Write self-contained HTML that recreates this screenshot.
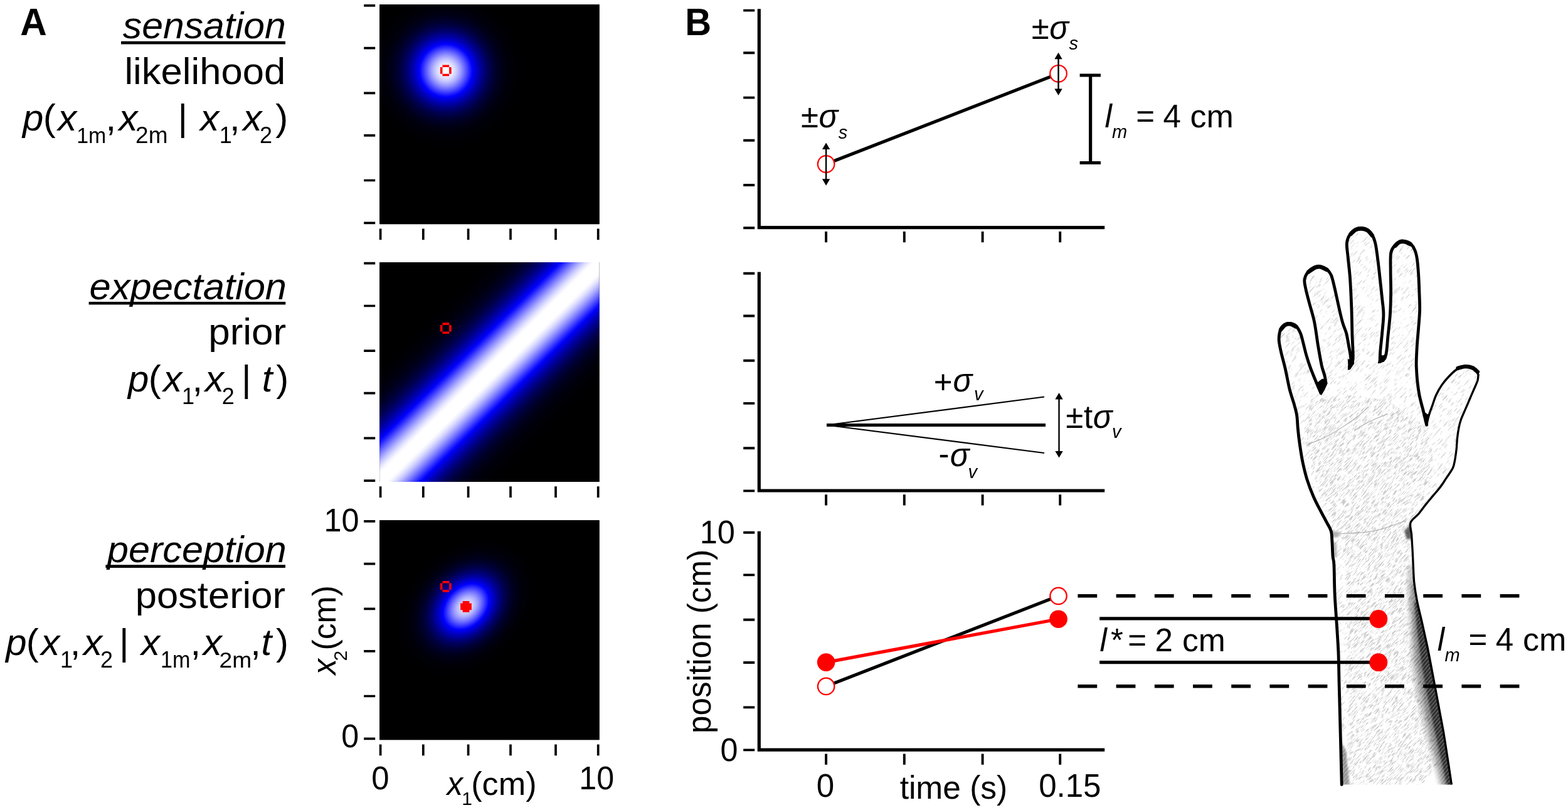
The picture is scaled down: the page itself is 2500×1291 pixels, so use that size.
<!DOCTYPE html>
<html><head><meta charset="utf-8"><title>Figure</title>
<style>html,body{margin:0;padding:0;background:#fff;}body{width:2500px;height:1291px;overflow:hidden;}svg{display:block;}</style>
</head><body>
<svg width="2500" height="1291" viewBox="0 0 2500 1291" font-family="'Liberation Sans', sans-serif" fill="#000">
<defs><radialGradient id="gL" gradientUnits="userSpaceOnUse" cx="711.0" cy="112.4" r="128.88"><stop offset="0.0000" stop-color="rgb(255,255,255)"/><stop offset="0.0139" stop-color="rgb(254,254,255)"/><stop offset="0.0278" stop-color="rgb(252,252,255)"/><stop offset="0.0417" stop-color="rgb(249,249,255)"/><stop offset="0.0556" stop-color="rgb(245,245,255)"/><stop offset="0.0694" stop-color="rgb(239,239,255)"/><stop offset="0.0833" stop-color="rgb(233,233,255)"/><stop offset="0.0972" stop-color="rgb(225,225,255)"/><stop offset="0.1111" stop-color="rgb(216,216,255)"/><stop offset="0.1250" stop-color="rgb(206,206,255)"/><stop offset="0.1389" stop-color="rgb(195,195,255)"/><stop offset="0.1528" stop-color="rgb(183,183,255)"/><stop offset="0.1667" stop-color="rgb(171,171,255)"/><stop offset="0.1806" stop-color="rgb(158,158,255)"/><stop offset="0.1944" stop-color="rgb(144,144,255)"/><stop offset="0.2083" stop-color="rgb(130,130,255)"/><stop offset="0.2222" stop-color="rgb(115,115,255)"/><stop offset="0.2361" stop-color="rgb(100,100,255)"/><stop offset="0.2500" stop-color="rgb(85,85,255)"/><stop offset="0.2639" stop-color="rgb(70,70,255)"/><stop offset="0.2778" stop-color="rgb(54,54,255)"/><stop offset="0.2917" stop-color="rgb(39,39,255)"/><stop offset="0.3056" stop-color="rgb(23,23,255)"/><stop offset="0.3194" stop-color="rgb(8,8,255)"/><stop offset="0.3333" stop-color="rgb(0,0,248)"/><stop offset="0.3472" stop-color="rgb(0,0,233)"/><stop offset="0.3611" stop-color="rgb(0,0,219)"/><stop offset="0.3750" stop-color="rgb(0,0,205)"/><stop offset="0.3889" stop-color="rgb(0,0,191)"/><stop offset="0.4028" stop-color="rgb(0,0,178)"/><stop offset="0.4167" stop-color="rgb(0,0,166)"/><stop offset="0.4306" stop-color="rgb(0,0,153)"/><stop offset="0.4444" stop-color="rgb(0,0,142)"/><stop offset="0.4583" stop-color="rgb(0,0,131)"/><stop offset="0.4722" stop-color="rgb(0,0,120)"/><stop offset="0.4861" stop-color="rgb(0,0,110)"/><stop offset="0.5000" stop-color="rgb(0,0,101)"/><stop offset="0.5139" stop-color="rgb(0,0,92)"/><stop offset="0.5278" stop-color="rgb(0,0,84)"/><stop offset="0.5417" stop-color="rgb(0,0,76)"/><stop offset="0.5556" stop-color="rgb(0,0,69)"/><stop offset="0.5694" stop-color="rgb(0,0,62)"/><stop offset="0.5833" stop-color="rgb(0,0,56)"/><stop offset="0.5972" stop-color="rgb(0,0,51)"/><stop offset="0.6111" stop-color="rgb(0,0,45)"/><stop offset="0.6250" stop-color="rgb(0,0,41)"/><stop offset="0.6389" stop-color="rgb(0,0,36)"/><stop offset="0.6528" stop-color="rgb(0,0,32)"/><stop offset="0.6667" stop-color="rgb(0,0,29)"/><stop offset="0.6806" stop-color="rgb(0,0,25)"/><stop offset="0.6944" stop-color="rgb(0,0,22)"/><stop offset="0.7083" stop-color="rgb(0,0,20)"/><stop offset="0.7222" stop-color="rgb(0,0,17)"/><stop offset="0.7361" stop-color="rgb(0,0,15)"/><stop offset="0.7500" stop-color="rgb(0,0,13)"/><stop offset="0.7639" stop-color="rgb(0,0,12)"/><stop offset="0.7778" stop-color="rgb(0,0,10)"/><stop offset="0.7917" stop-color="rgb(0,0,9)"/><stop offset="0.8056" stop-color="rgb(0,0,8)"/><stop offset="0.8194" stop-color="rgb(0,0,7)"/><stop offset="0.8333" stop-color="rgb(0,0,6)"/><stop offset="0.8472" stop-color="rgb(0,0,5)"/><stop offset="0.8611" stop-color="rgb(0,0,4)"/><stop offset="0.8750" stop-color="rgb(0,0,4)"/><stop offset="0.8889" stop-color="rgb(0,0,3)"/><stop offset="0.9028" stop-color="rgb(0,0,3)"/><stop offset="0.9167" stop-color="rgb(0,0,2)"/><stop offset="0.9306" stop-color="rgb(0,0,2)"/><stop offset="0.9444" stop-color="rgb(0,0,2)"/><stop offset="0.9583" stop-color="rgb(0,0,1)"/><stop offset="0.9722" stop-color="rgb(0,0,1)"/><stop offset="0.9861" stop-color="rgb(0,0,1)"/><stop offset="1.0000" stop-color="rgb(0,0,1)"/></radialGradient><linearGradient id="gP" gradientUnits="userSpaceOnUse" x1="683.16" y1="495.74" x2="877.64" y2="693.26"><stop offset="0.0000" stop-color="rgb(0,0,1)"/><stop offset="0.0100" stop-color="rgb(0,0,1)"/><stop offset="0.0200" stop-color="rgb(0,0,1)"/><stop offset="0.0300" stop-color="rgb(0,0,2)"/><stop offset="0.0400" stop-color="rgb(0,0,2)"/><stop offset="0.0500" stop-color="rgb(0,0,3)"/><stop offset="0.0600" stop-color="rgb(0,0,3)"/><stop offset="0.0700" stop-color="rgb(0,0,4)"/><stop offset="0.0800" stop-color="rgb(0,0,5)"/><stop offset="0.0900" stop-color="rgb(0,0,7)"/><stop offset="0.1000" stop-color="rgb(0,0,8)"/><stop offset="0.1100" stop-color="rgb(0,0,10)"/><stop offset="0.1200" stop-color="rgb(0,0,12)"/><stop offset="0.1300" stop-color="rgb(0,0,15)"/><stop offset="0.1400" stop-color="rgb(0,0,18)"/><stop offset="0.1500" stop-color="rgb(0,0,22)"/><stop offset="0.1600" stop-color="rgb(0,0,26)"/><stop offset="0.1700" stop-color="rgb(0,0,31)"/><stop offset="0.1800" stop-color="rgb(0,0,37)"/><stop offset="0.1900" stop-color="rgb(0,0,44)"/><stop offset="0.2000" stop-color="rgb(0,0,51)"/><stop offset="0.2100" stop-color="rgb(0,0,59)"/><stop offset="0.2200" stop-color="rgb(0,0,69)"/><stop offset="0.2300" stop-color="rgb(0,0,79)"/><stop offset="0.2400" stop-color="rgb(0,0,91)"/><stop offset="0.2500" stop-color="rgb(0,0,104)"/><stop offset="0.2600" stop-color="rgb(0,0,118)"/><stop offset="0.2700" stop-color="rgb(0,0,133)"/><stop offset="0.2800" stop-color="rgb(0,0,150)"/><stop offset="0.2900" stop-color="rgb(0,0,167)"/><stop offset="0.3000" stop-color="rgb(0,0,186)"/><stop offset="0.3100" stop-color="rgb(0,0,206)"/><stop offset="0.3200" stop-color="rgb(0,0,227)"/><stop offset="0.3300" stop-color="rgb(0,0,248)"/><stop offset="0.3400" stop-color="rgb(16,16,255)"/><stop offset="0.3500" stop-color="rgb(38,38,255)"/><stop offset="0.3600" stop-color="rgb(61,61,255)"/><stop offset="0.3700" stop-color="rgb(84,84,255)"/><stop offset="0.3800" stop-color="rgb(107,107,255)"/><stop offset="0.3900" stop-color="rgb(129,129,255)"/><stop offset="0.4000" stop-color="rgb(150,150,255)"/><stop offset="0.4100" stop-color="rgb(171,171,255)"/><stop offset="0.4200" stop-color="rgb(190,190,255)"/><stop offset="0.4300" stop-color="rgb(208,208,255)"/><stop offset="0.4400" stop-color="rgb(224,224,255)"/><stop offset="0.4500" stop-color="rgb(237,237,255)"/><stop offset="0.4600" stop-color="rgb(249,249,255)"/><stop offset="0.4700" stop-color="rgb(255,255,255)"/><stop offset="0.4800" stop-color="rgb(255,255,255)"/><stop offset="0.4900" stop-color="rgb(255,255,255)"/><stop offset="0.5000" stop-color="rgb(255,255,255)"/><stop offset="0.5100" stop-color="rgb(255,255,255)"/><stop offset="0.5200" stop-color="rgb(255,255,255)"/><stop offset="0.5300" stop-color="rgb(255,255,255)"/><stop offset="0.5400" stop-color="rgb(249,249,255)"/><stop offset="0.5500" stop-color="rgb(237,237,255)"/><stop offset="0.5600" stop-color="rgb(224,224,255)"/><stop offset="0.5700" stop-color="rgb(208,208,255)"/><stop offset="0.5800" stop-color="rgb(190,190,255)"/><stop offset="0.5900" stop-color="rgb(171,171,255)"/><stop offset="0.6000" stop-color="rgb(150,150,255)"/><stop offset="0.6100" stop-color="rgb(129,129,255)"/><stop offset="0.6200" stop-color="rgb(107,107,255)"/><stop offset="0.6300" stop-color="rgb(84,84,255)"/><stop offset="0.6400" stop-color="rgb(61,61,255)"/><stop offset="0.6500" stop-color="rgb(38,38,255)"/><stop offset="0.6600" stop-color="rgb(16,16,255)"/><stop offset="0.6700" stop-color="rgb(0,0,248)"/><stop offset="0.6800" stop-color="rgb(0,0,227)"/><stop offset="0.6900" stop-color="rgb(0,0,206)"/><stop offset="0.7000" stop-color="rgb(0,0,186)"/><stop offset="0.7100" stop-color="rgb(0,0,167)"/><stop offset="0.7200" stop-color="rgb(0,0,150)"/><stop offset="0.7300" stop-color="rgb(0,0,133)"/><stop offset="0.7400" stop-color="rgb(0,0,118)"/><stop offset="0.7500" stop-color="rgb(0,0,104)"/><stop offset="0.7600" stop-color="rgb(0,0,91)"/><stop offset="0.7700" stop-color="rgb(0,0,79)"/><stop offset="0.7800" stop-color="rgb(0,0,69)"/><stop offset="0.7900" stop-color="rgb(0,0,59)"/><stop offset="0.8000" stop-color="rgb(0,0,51)"/><stop offset="0.8100" stop-color="rgb(0,0,44)"/><stop offset="0.8200" stop-color="rgb(0,0,37)"/><stop offset="0.8300" stop-color="rgb(0,0,31)"/><stop offset="0.8400" stop-color="rgb(0,0,26)"/><stop offset="0.8500" stop-color="rgb(0,0,22)"/><stop offset="0.8600" stop-color="rgb(0,0,18)"/><stop offset="0.8700" stop-color="rgb(0,0,15)"/><stop offset="0.8800" stop-color="rgb(0,0,12)"/><stop offset="0.8900" stop-color="rgb(0,0,10)"/><stop offset="0.9000" stop-color="rgb(0,0,8)"/><stop offset="0.9100" stop-color="rgb(0,0,7)"/><stop offset="0.9200" stop-color="rgb(0,0,5)"/><stop offset="0.9300" stop-color="rgb(0,0,4)"/><stop offset="0.9400" stop-color="rgb(0,0,3)"/><stop offset="0.9500" stop-color="rgb(0,0,3)"/><stop offset="0.9600" stop-color="rgb(0,0,2)"/><stop offset="0.9700" stop-color="rgb(0,0,2)"/><stop offset="0.9800" stop-color="rgb(0,0,1)"/><stop offset="0.9900" stop-color="rgb(0,0,1)"/><stop offset="1.0000" stop-color="rgb(0,0,1)"/></linearGradient><radialGradient id="gQ" gradientUnits="userSpaceOnUse" cx="0" cy="0" r="3.6" gradientTransform="translate(743.0 966.9) rotate(-45) scale(36.5 27.5)"><stop offset="0.0000" stop-color="rgb(229,229,255)"/><stop offset="0.0139" stop-color="rgb(229,229,255)"/><stop offset="0.0278" stop-color="rgb(227,227,255)"/><stop offset="0.0417" stop-color="rgb(224,224,255)"/><stop offset="0.0556" stop-color="rgb(220,220,255)"/><stop offset="0.0694" stop-color="rgb(215,215,255)"/><stop offset="0.0833" stop-color="rgb(208,208,255)"/><stop offset="0.0972" stop-color="rgb(201,201,255)"/><stop offset="0.1111" stop-color="rgb(192,192,255)"/><stop offset="0.1250" stop-color="rgb(183,183,255)"/><stop offset="0.1389" stop-color="rgb(173,173,255)"/><stop offset="0.1528" stop-color="rgb(161,161,255)"/><stop offset="0.1667" stop-color="rgb(150,150,255)"/><stop offset="0.1806" stop-color="rgb(137,137,255)"/><stop offset="0.1944" stop-color="rgb(124,124,255)"/><stop offset="0.2083" stop-color="rgb(111,111,255)"/><stop offset="0.2222" stop-color="rgb(97,97,255)"/><stop offset="0.2361" stop-color="rgb(83,83,255)"/><stop offset="0.2500" stop-color="rgb(68,68,255)"/><stop offset="0.2639" stop-color="rgb(54,54,255)"/><stop offset="0.2778" stop-color="rgb(39,39,255)"/><stop offset="0.2917" stop-color="rgb(24,24,255)"/><stop offset="0.3056" stop-color="rgb(10,10,255)"/><stop offset="0.3194" stop-color="rgb(0,0,250)"/><stop offset="0.3333" stop-color="rgb(0,0,236)"/><stop offset="0.3472" stop-color="rgb(0,0,222)"/><stop offset="0.3611" stop-color="rgb(0,0,208)"/><stop offset="0.3750" stop-color="rgb(0,0,195)"/><stop offset="0.3889" stop-color="rgb(0,0,182)"/><stop offset="0.4028" stop-color="rgb(0,0,169)"/><stop offset="0.4167" stop-color="rgb(0,0,157)"/><stop offset="0.4306" stop-color="rgb(0,0,146)"/><stop offset="0.4444" stop-color="rgb(0,0,135)"/><stop offset="0.4583" stop-color="rgb(0,0,124)"/><stop offset="0.4722" stop-color="rgb(0,0,114)"/><stop offset="0.4861" stop-color="rgb(0,0,105)"/><stop offset="0.5000" stop-color="rgb(0,0,96)"/><stop offset="0.5139" stop-color="rgb(0,0,88)"/><stop offset="0.5278" stop-color="rgb(0,0,80)"/><stop offset="0.5417" stop-color="rgb(0,0,72)"/><stop offset="0.5556" stop-color="rgb(0,0,66)"/><stop offset="0.5694" stop-color="rgb(0,0,59)"/><stop offset="0.5833" stop-color="rgb(0,0,53)"/><stop offset="0.5972" stop-color="rgb(0,0,48)"/><stop offset="0.6111" stop-color="rgb(0,0,43)"/><stop offset="0.6250" stop-color="rgb(0,0,39)"/><stop offset="0.6389" stop-color="rgb(0,0,34)"/><stop offset="0.6528" stop-color="rgb(0,0,31)"/><stop offset="0.6667" stop-color="rgb(0,0,27)"/><stop offset="0.6806" stop-color="rgb(0,0,24)"/><stop offset="0.6944" stop-color="rgb(0,0,21)"/><stop offset="0.7083" stop-color="rgb(0,0,19)"/><stop offset="0.7222" stop-color="rgb(0,0,16)"/><stop offset="0.7361" stop-color="rgb(0,0,14)"/><stop offset="0.7500" stop-color="rgb(0,0,13)"/><stop offset="0.7639" stop-color="rgb(0,0,11)"/><stop offset="0.7778" stop-color="rgb(0,0,10)"/><stop offset="0.7917" stop-color="rgb(0,0,8)"/><stop offset="0.8056" stop-color="rgb(0,0,7)"/><stop offset="0.8194" stop-color="rgb(0,0,6)"/><stop offset="0.8333" stop-color="rgb(0,0,5)"/><stop offset="0.8472" stop-color="rgb(0,0,5)"/><stop offset="0.8611" stop-color="rgb(0,0,4)"/><stop offset="0.8750" stop-color="rgb(0,0,3)"/><stop offset="0.8889" stop-color="rgb(0,0,3)"/><stop offset="0.9028" stop-color="rgb(0,0,2)"/><stop offset="0.9167" stop-color="rgb(0,0,2)"/><stop offset="0.9306" stop-color="rgb(0,0,2)"/><stop offset="0.9444" stop-color="rgb(0,0,1)"/><stop offset="0.9583" stop-color="rgb(0,0,1)"/><stop offset="0.9722" stop-color="rgb(0,0,1)"/><stop offset="0.9861" stop-color="rgb(0,0,1)"/><stop offset="1.0000" stop-color="rgb(0,0,1)"/></radialGradient><filter id="tex" x="0" y="0" width="100%" height="100%" filterUnits="objectBoundingBox" color-interpolation-filters="sRGB">
<feTurbulence type="fractalNoise" baseFrequency="0.07 0.9" numOctaves="2" seed="7" result="n"/>
<feColorMatrix in="n" type="matrix" values="0 0 0 0 0.8  0 0 0 0 0.8  0 0 0 0 0.8  9 0 0 0 -5.45" result="h"/>
<feComposite in="h" in2="SourceGraphic" operator="over"/>
</filter>
<filter id="tex2" x="0" y="0" width="100%" height="100%" filterUnits="objectBoundingBox" color-interpolation-filters="sRGB">
<feTurbulence type="fractalNoise" baseFrequency="0.09 0.8" numOctaves="2" seed="23" result="n"/>
<feColorMatrix in="n" type="matrix" values="0 0 0 0 0.8  0 0 0 0 0.8  0 0 0 0 0.8  0 8 0 0 -4.3" result="h"/>
</filter><clipPath id="palm"><path transform="rotate(48 2200 800)" d="M2090 640C2140 620 2250 630 2275 690C2300 740 2270 800 2245 860C2250 1000 2280 1150 2300 1260H2150C2150 1100 2150 950 2140 860C2100 800 2070 700 2090 640Z"/></clipPath><pattern id="hatch" width="4.5" height="4.5" patternUnits="userSpaceOnUse" patternTransform="rotate(-50)"><rect width="4.5" height="1.3" fill="#fff" fill-opacity="0.32"/></pattern><filter id="blur" x="-20%" y="-5%" width="140%" height="110%"><feGaussianBlur stdDeviation="3.2"/></filter><filter id="blur2" x="-20%" y="-5%" width="140%" height="110%"><feGaussianBlur stdDeviation="1.8"/></filter></defs>
<rect x="605.2" y="7.2" width="350.4" height="350.0" fill="#000"/>
<rect x="605.2" y="7.2" width="350.4" height="350.0" fill="url(#gL)"/>
<rect x="605.2" y="418.0" width="350.4" height="350.0" fill="#000"/>
<rect x="605.2" y="418.0" width="350.4" height="350.0" fill="url(#gP)"/>
<rect x="605.2" y="829.2" width="350.4" height="350.0" fill="#000"/>
<rect x="605.2" y="829.2" width="350.4" height="350.0" fill="url(#gQ)"/>
<path d="M705.47 103.53L716.12 103.53L716.12 107.08L719.67 107.08L719.67 117.73L716.12 117.73L716.12 121.28L705.47 121.28L705.47 117.73L701.92 117.73L701.92 107.08L705.47 107.08ZM705.47 107.08L705.47 117.73L716.12 117.73L716.12 107.08Z" fill="#f00" fill-rule="evenodd"/>
<path d="M705.47 514.33L716.12 514.33L716.12 517.88L719.67 517.88L719.67 528.53L716.12 528.53L716.12 532.08L705.47 532.08L705.47 528.53L701.92 528.53L701.92 517.88L705.47 517.88ZM705.47 517.88L705.47 528.53L716.12 528.53L716.12 517.88Z" fill="#f00" fill-rule="evenodd"/>
<path d="M705.47 925.92L716.12 925.92L716.12 929.47L719.67 929.47L719.67 940.12L716.12 940.12L716.12 943.67L705.47 943.67L705.47 940.12L701.92 940.12L701.92 929.47L705.47 929.47ZM705.47 929.47L705.47 940.12L716.12 940.12L716.12 929.47Z" fill="#f00" fill-rule="evenodd"/>
<path d="M737.67 958.02L748.33 958.02L748.33 961.57L751.88 961.57L751.88 972.23L748.33 972.23L748.33 975.77L737.67 975.77L737.67 972.23L734.12 972.23L734.12 961.57L737.67 961.57Z" fill="#f00"/>
<path d="M580.2 8.8H598.2 M580.2 76.7H598.2 M580.2 148.3H598.2 M580.2 215.8H598.2 M580.2 287.5H598.2 M580.2 355.3H598.2 M606.6 364.4V382.2 M674.8 364.4V382.2 M746.6 364.4V382.2 M814.0 364.4V382.2 M886.0 364.4V382.2 M953.7 364.4V382.2 M580.2 419.6H598.2 M580.2 487.5H598.2 M580.2 559.1H598.2 M580.2 626.6H598.2 M580.2 698.3H598.2 M580.2 766.1H598.2 M606.6 775.2V793.0 M674.8 775.2V793.0 M746.6 775.2V793.0 M814.0 775.2V793.0 M886.0 775.2V793.0 M953.7 775.2V793.0 M580.2 830.8H598.2 M580.2 898.7H598.2 M580.2 970.3H598.2 M580.2 1037.8H598.2 M580.2 1109.5H598.2 M580.2 1177.3H598.2 M606.6 1186.4V1204.2 M674.8 1186.4V1204.2 M746.6 1186.4V1204.2 M814.0 1186.4V1204.2 M886.0 1186.4V1204.2 M953.7 1186.4V1204.2" stroke="#000" stroke-width="3.7" fill="none"/>
<path d="M1210.3 14.2V362.7H1761.2" stroke="#000" stroke-width="5.2" fill="none" stroke-linejoin="miter"/>
<path d="M1185.2 16.6H1203.2 M1185.2 84.3H1203.2 M1185.2 155.6H1203.2 M1185.2 223.7H1203.2 M1185.2 295.0H1203.2 M1185.2 363.2H1203.2 M1317.1 369.0V386.3 M1441.8 369.0V386.3 M1566.6 369.0V386.3 M1690.2 369.0V386.3" stroke="#000" stroke-width="3.9" fill="none"/>
<path d="M1210.3 433.4V782.0H1761.2" stroke="#000" stroke-width="5.2" fill="none" stroke-linejoin="miter"/>
<path d="M1185.2 435.8H1203.2 M1185.2 503.5H1203.2 M1185.2 574.8H1203.2 M1185.2 642.9H1203.2 M1185.2 714.2H1203.2 M1185.2 782.4H1203.2 M1317.1 788.3V805.6 M1441.8 788.3V805.6 M1566.6 788.3V805.6 M1690.2 788.3V805.6" stroke="#000" stroke-width="3.9" fill="none"/>
<path d="M1210.3 846.8V1195.2H1761.2" stroke="#000" stroke-width="5.2" fill="none" stroke-linejoin="miter"/>
<path d="M1185.2 848.7H1203.2 M1185.2 916.4H1203.2 M1185.2 987.8H1203.2 M1185.2 1056.0H1203.2 M1185.2 1127.4H1203.2 M1185.2 1195.4H1203.2 M1317.1 1201.5V1218.8 M1441.8 1201.5V1218.8 M1566.6 1201.5V1218.8 M1690.2 1201.5V1218.8" stroke="#000" stroke-width="3.9" fill="none"/>
<line x1="1317.1" y1="261.5" x2="1687.5" y2="117.3" stroke="#000" stroke-width="5.2"/>
<circle cx="1317.1" cy="261.5" r="13.3" fill="#fff" stroke="#f00" stroke-width="2.2"/>
<circle cx="1687.5" cy="117.3" r="13.3" fill="#fff" stroke="#f00" stroke-width="2.2"/>
<path d="M1317.1 237.1V286.3" stroke="#000" stroke-width="2.4" fill="none"/><path d="M1317.1 227.6L1310.8999999999999 238.1H1323.3Z M1317.1 295.8L1310.8999999999999 285.3H1323.3Z" fill="#000"/>
<path d="M1687.5 93.2V142.5" stroke="#000" stroke-width="2.4" fill="none"/><path d="M1687.5 83.7L1681.3 94.2H1693.7Z M1687.5 152.0L1681.3 141.5H1693.7Z" fill="#000"/>
<path d="M1721.6 120H1754.9M1738.6 120V259.5M1721.6 259.5H1754.9" stroke="#000" stroke-width="5.2" fill="none"/>
<path d="M1318 677.5H1667" stroke="#000" stroke-width="5.2" fill="none"/>
<path d="M1318 677.5L1665 632.5M1318 677.5L1665 722" stroke="#000" stroke-width="2.2" fill="none"/>
<path d="M1688.5 635.5V720.0" stroke="#000" stroke-width="2.4" fill="none"/><path d="M1688.5 626.0L1682.3 636.5H1694.7Z M1688.5 729.5L1682.3 719.0H1694.7Z" fill="#000"/>
<line x1="1317.1" y1="1093.9" x2="1687.5" y2="949.9" stroke="#000" stroke-width="5.2"/>
<line x1="1317.1" y1="1055.6" x2="1687.5" y2="986.7" stroke="#f00" stroke-width="5.2"/>
<circle cx="1317.1" cy="1093.9" r="13.2" fill="#fff" stroke="#f00" stroke-width="2.3"/>
<circle cx="1687.5" cy="949.9" r="13.2" fill="#fff" stroke="#f00" stroke-width="2.3"/>
<circle cx="1317.1" cy="1055.6" r="14.3" fill="#f00"/>
<circle cx="1687.5" cy="986.7" r="14.3" fill="#f00"/>
<clipPath id="hc"><path d="M2139.2 1250.5C2138.9 1238.6 2137.9 1198.6 2137.4 1178.9C2136.9 1159.2 2136.6 1147.9 2136.2 1132.4C2135.8 1116.9 2135.4 1101.4 2135.0 1085.9C2134.7 1070.4 2134.5 1054.9 2133.9 1039.5C2133.2 1024.0 2132.1 1008.5 2131.1 993.0C2130.1 977.5 2128.8 962.0 2128.1 946.5C2127.4 931.0 2127.4 909.9 2126.9 900.0C2126.4 890.1 2125.6 893.3 2125.1 887.3C2124.5 881.3 2124.4 870.8 2123.9 864.0C2123.4 857.3 2123.7 851.8 2122.3 846.6C2120.8 841.4 2118.0 837.9 2115.3 832.7C2112.6 827.4 2109.5 822.0 2106.0 815.2C2102.5 808.5 2098.1 800.5 2094.4 792.0C2090.7 783.5 2086.8 773.4 2083.9 764.1C2081.0 754.8 2078.9 745.5 2076.9 736.2C2075.0 726.9 2073.6 717.2 2072.3 708.3C2071.0 699.4 2070.0 690.5 2069.3 682.8C2068.5 675.0 2068.7 668.4 2067.6 661.8C2066.6 655.3 2064.9 650.2 2063.0 643.2C2061.1 636.3 2058.3 629.4 2056.0 620.0C2053.7 610.6 2051.4 597.2 2049.1 587.1C2046.7 576.9 2043.7 566.9 2042.1 559.2C2040.4 551.4 2039.1 546.4 2039.1 540.6C2039.1 534.8 2040.4 528.3 2042.1 524.3C2043.7 520.4 2046.5 518.3 2049.1 516.9C2051.6 515.4 2054.3 515.0 2057.2 515.5C2060.1 515.9 2063.8 517.0 2066.5 519.7C2069.2 522.3 2071.5 526.6 2073.5 531.3C2075.4 535.9 2076.6 541.7 2078.1 547.6C2079.7 553.4 2080.8 559.6 2082.8 566.1C2084.7 572.7 2087.0 579.7 2089.7 587.1C2092.4 594.4 2096.3 603.7 2099.0 610.3C2101.7 616.9 2104.8 623.9 2106.0 626.6L2106.0 626.6C2107.2 623.1 2112.8 613.0 2113.0 605.7C2113.2 598.3 2109.1 591.7 2107.2 582.4C2105.2 573.1 2103.3 561.5 2101.3 549.9C2099.4 538.3 2097.9 523.9 2095.5 512.7C2093.2 501.5 2089.7 491.4 2087.4 482.5C2085.1 473.6 2082.8 465.4 2081.6 459.2C2080.4 453.0 2079.2 449.7 2080.0 445.3C2080.7 440.8 2083.5 435.8 2086.2 432.5C2089.0 429.2 2093.6 426.9 2096.7 425.5C2099.8 424.2 2101.7 423.8 2104.8 424.4C2107.9 425.0 2112.4 426.7 2115.3 429.0C2118.2 431.3 2120.3 434.1 2122.3 438.3C2124.2 442.6 2125.4 448.4 2126.9 454.6C2128.5 460.8 2130.0 468.5 2131.6 475.5C2133.1 482.5 2134.7 489.8 2136.2 496.4C2137.8 503.0 2139.1 509.2 2140.9 515.0C2142.6 520.8 2145.1 525.5 2146.7 531.3C2148.2 537.1 2149.0 543.3 2150.2 549.9C2151.3 556.5 2153.4 564.6 2153.6 570.8C2153.8 577.0 2151.7 584.4 2151.3 587.1L2151.3 587.1C2152.3 584.7 2156.4 581.6 2157.1 573.1C2157.9 564.6 2156.4 549.9 2156.0 535.9C2155.6 522.0 2155.4 504.9 2154.8 489.5C2154.2 474.0 2153.4 456.5 2152.5 443.0C2151.5 429.4 2149.8 417.4 2149.0 408.1C2148.1 398.8 2146.8 393.0 2147.4 387.2C2147.9 381.4 2150.1 376.9 2152.5 373.2C2154.9 369.6 2158.7 366.7 2161.8 365.1C2164.9 363.5 2168.0 363.3 2171.1 363.5C2174.2 363.7 2177.5 364.3 2180.4 366.3C2183.3 368.3 2186.4 371.7 2188.5 375.6C2190.6 379.4 2191.8 383.3 2193.2 389.5C2194.5 395.7 2195.5 403.8 2196.6 412.8C2197.8 421.7 2199.0 432.5 2200.1 443.0C2201.3 453.4 2202.6 465.8 2203.6 475.5C2204.6 485.2 2205.9 491.8 2205.9 501.1C2205.9 510.4 2204.5 521.6 2203.6 531.3C2202.8 541.0 2201.4 551.6 2200.8 559.2C2200.2 566.7 2200.2 573.7 2200.1 576.6L2200.1 576.6C2201.7 574.9 2207.3 572.9 2209.4 566.1C2211.6 559.4 2211.7 546.8 2212.9 535.9C2214.1 525.1 2215.6 512.7 2216.4 501.1C2217.2 489.5 2217.4 477.8 2217.6 466.2C2217.7 454.6 2217.1 441.8 2217.1 431.3C2217.1 420.9 2216.5 410.0 2217.6 403.5C2218.6 396.9 2221.0 394.9 2223.4 391.8C2225.7 388.7 2228.8 386.1 2231.5 384.9C2234.2 383.6 2236.7 383.8 2239.6 384.4C2242.5 385.0 2246.2 385.9 2248.9 388.3C2251.6 390.8 2254.2 394.7 2255.9 398.8C2257.6 402.9 2258.4 406.2 2259.4 412.8C2260.4 419.3 2261.1 429.4 2261.7 438.3C2262.3 447.2 2262.6 456.9 2262.9 466.2C2263.2 475.5 2263.8 484.8 2263.6 494.1C2263.4 503.4 2262.4 512.7 2261.7 522.0C2261.0 531.3 2260.0 541.0 2259.4 549.9C2258.8 558.8 2258.4 569.5 2258.2 575.4C2258.1 581.4 2258.1 580.4 2258.3 585.5C2258.6 590.7 2258.9 599.1 2259.7 606.5C2260.5 613.8 2261.5 621.9 2263.0 629.7C2264.5 637.4 2266.8 645.0 2268.8 652.9C2270.7 660.8 2273.6 673.2 2274.6 677.3L2274.6 677.3C2275.2 674.8 2276.5 667.4 2278.1 662.2C2279.6 657.0 2281.9 651.4 2283.9 645.9C2285.8 640.5 2287.2 635.1 2289.7 629.7C2292.2 624.3 2295.5 618.5 2299.0 613.4C2302.5 608.4 2306.7 603.5 2310.6 599.5C2314.5 595.4 2318.7 591.5 2322.2 589.0C2325.7 586.5 2328.8 585.4 2331.5 584.4C2334.2 583.4 2335.4 582.8 2338.5 583.2C2341.5 583.6 2347.0 584.4 2350.1 586.7C2353.2 589.0 2356.1 593.9 2357.0 597.2C2358.0 600.5 2357.0 602.6 2355.9 606.5C2354.7 610.3 2352.2 615.4 2350.1 620.4C2347.9 625.4 2345.4 631.2 2343.1 636.6C2340.8 642.1 2338.5 647.5 2336.1 652.9C2333.8 658.3 2330.9 664.1 2329.2 669.2C2327.4 674.2 2326.6 678.1 2325.7 683.1C2324.7 688.1 2323.9 693.9 2323.4 699.4C2322.8 704.8 2322.8 710.2 2322.2 715.6C2321.6 721.0 2320.8 726.8 2319.9 731.9C2318.9 736.9 2318.7 740.8 2316.4 745.8C2314.1 750.8 2309.2 757.0 2305.9 762.1C2302.6 767.1 2300.1 771.4 2296.6 776.0C2293.2 780.6 2288.9 785.3 2285.0 789.9C2281.2 794.6 2277.3 799.0 2273.4 803.9C2269.5 808.7 2265.9 814.1 2261.8 819.0C2257.7 823.8 2250.9 827.3 2249.0 832.9C2247.2 838.5 2250.1 845.3 2250.6 852.4C2251.0 859.5 2251.5 867.9 2252.0 875.7C2252.4 883.4 2252.7 890.2 2253.1 898.9C2253.6 907.6 2253.7 918.0 2254.7 927.9C2255.8 937.8 2257.3 947.3 2259.4 958.1C2261.5 969.0 2264.8 981.0 2267.5 993.0C2270.2 1005.0 2272.9 1017.0 2275.7 1030.2C2278.4 1043.3 2281.3 1058.8 2283.8 1072.0C2286.3 1085.2 2288.4 1096.8 2290.8 1109.2C2293.1 1121.6 2295.6 1134.7 2297.7 1146.4C2299.9 1158.0 2300.8 1161.5 2303.5 1178.9C2306.3 1196.3 2312.6 1238.6 2314.4 1250.5Z"/></clipPath><path d="M2139.2 1250.5C2138.9 1238.6 2137.9 1198.6 2137.4 1178.9C2136.9 1159.2 2136.6 1147.9 2136.2 1132.4C2135.8 1116.9 2135.4 1101.4 2135.0 1085.9C2134.7 1070.4 2134.5 1054.9 2133.9 1039.5C2133.2 1024.0 2132.1 1008.5 2131.1 993.0C2130.1 977.5 2128.8 962.0 2128.1 946.5C2127.4 931.0 2127.4 909.9 2126.9 900.0C2126.4 890.1 2125.6 893.3 2125.1 887.3C2124.5 881.3 2124.4 870.8 2123.9 864.0C2123.4 857.3 2123.7 851.8 2122.3 846.6C2120.8 841.4 2118.0 837.9 2115.3 832.7C2112.6 827.4 2109.5 822.0 2106.0 815.2C2102.5 808.5 2098.1 800.5 2094.4 792.0C2090.7 783.5 2086.8 773.4 2083.9 764.1C2081.0 754.8 2078.9 745.5 2076.9 736.2C2075.0 726.9 2073.6 717.2 2072.3 708.3C2071.0 699.4 2070.0 690.5 2069.3 682.8C2068.5 675.0 2068.7 668.4 2067.6 661.8C2066.6 655.3 2064.9 650.2 2063.0 643.2C2061.1 636.3 2058.3 629.4 2056.0 620.0C2053.7 610.6 2051.4 597.2 2049.1 587.1C2046.7 576.9 2043.7 566.9 2042.1 559.2C2040.4 551.4 2039.1 546.4 2039.1 540.6C2039.1 534.8 2040.4 528.3 2042.1 524.3C2043.7 520.4 2046.5 518.3 2049.1 516.9C2051.6 515.4 2054.3 515.0 2057.2 515.5C2060.1 515.9 2063.8 517.0 2066.5 519.7C2069.2 522.3 2071.5 526.6 2073.5 531.3C2075.4 535.9 2076.6 541.7 2078.1 547.6C2079.7 553.4 2080.8 559.6 2082.8 566.1C2084.7 572.7 2087.0 579.7 2089.7 587.1C2092.4 594.4 2096.3 603.7 2099.0 610.3C2101.7 616.9 2104.8 623.9 2106.0 626.6L2106.0 626.6C2107.2 623.1 2112.8 613.0 2113.0 605.7C2113.2 598.3 2109.1 591.7 2107.2 582.4C2105.2 573.1 2103.3 561.5 2101.3 549.9C2099.4 538.3 2097.9 523.9 2095.5 512.7C2093.2 501.5 2089.7 491.4 2087.4 482.5C2085.1 473.6 2082.8 465.4 2081.6 459.2C2080.4 453.0 2079.2 449.7 2080.0 445.3C2080.7 440.8 2083.5 435.8 2086.2 432.5C2089.0 429.2 2093.6 426.9 2096.7 425.5C2099.8 424.2 2101.7 423.8 2104.8 424.4C2107.9 425.0 2112.4 426.7 2115.3 429.0C2118.2 431.3 2120.3 434.1 2122.3 438.3C2124.2 442.6 2125.4 448.4 2126.9 454.6C2128.5 460.8 2130.0 468.5 2131.6 475.5C2133.1 482.5 2134.7 489.8 2136.2 496.4C2137.8 503.0 2139.1 509.2 2140.9 515.0C2142.6 520.8 2145.1 525.5 2146.7 531.3C2148.2 537.1 2149.0 543.3 2150.2 549.9C2151.3 556.5 2153.4 564.6 2153.6 570.8C2153.8 577.0 2151.7 584.4 2151.3 587.1L2151.3 587.1C2152.3 584.7 2156.4 581.6 2157.1 573.1C2157.9 564.6 2156.4 549.9 2156.0 535.9C2155.6 522.0 2155.4 504.9 2154.8 489.5C2154.2 474.0 2153.4 456.5 2152.5 443.0C2151.5 429.4 2149.8 417.4 2149.0 408.1C2148.1 398.8 2146.8 393.0 2147.4 387.2C2147.9 381.4 2150.1 376.9 2152.5 373.2C2154.9 369.6 2158.7 366.7 2161.8 365.1C2164.9 363.5 2168.0 363.3 2171.1 363.5C2174.2 363.7 2177.5 364.3 2180.4 366.3C2183.3 368.3 2186.4 371.7 2188.5 375.6C2190.6 379.4 2191.8 383.3 2193.2 389.5C2194.5 395.7 2195.5 403.8 2196.6 412.8C2197.8 421.7 2199.0 432.5 2200.1 443.0C2201.3 453.4 2202.6 465.8 2203.6 475.5C2204.6 485.2 2205.9 491.8 2205.9 501.1C2205.9 510.4 2204.5 521.6 2203.6 531.3C2202.8 541.0 2201.4 551.6 2200.8 559.2C2200.2 566.7 2200.2 573.7 2200.1 576.6L2200.1 576.6C2201.7 574.9 2207.3 572.9 2209.4 566.1C2211.6 559.4 2211.7 546.8 2212.9 535.9C2214.1 525.1 2215.6 512.7 2216.4 501.1C2217.2 489.5 2217.4 477.8 2217.6 466.2C2217.7 454.6 2217.1 441.8 2217.1 431.3C2217.1 420.9 2216.5 410.0 2217.6 403.5C2218.6 396.9 2221.0 394.9 2223.4 391.8C2225.7 388.7 2228.8 386.1 2231.5 384.9C2234.2 383.6 2236.7 383.8 2239.6 384.4C2242.5 385.0 2246.2 385.9 2248.9 388.3C2251.6 390.8 2254.2 394.7 2255.9 398.8C2257.6 402.9 2258.4 406.2 2259.4 412.8C2260.4 419.3 2261.1 429.4 2261.7 438.3C2262.3 447.2 2262.6 456.9 2262.9 466.2C2263.2 475.5 2263.8 484.8 2263.6 494.1C2263.4 503.4 2262.4 512.7 2261.7 522.0C2261.0 531.3 2260.0 541.0 2259.4 549.9C2258.8 558.8 2258.4 569.5 2258.2 575.4C2258.1 581.4 2258.1 580.4 2258.3 585.5C2258.6 590.7 2258.9 599.1 2259.7 606.5C2260.5 613.8 2261.5 621.9 2263.0 629.7C2264.5 637.4 2266.8 645.0 2268.8 652.9C2270.7 660.8 2273.6 673.2 2274.6 677.3L2274.6 677.3C2275.2 674.8 2276.5 667.4 2278.1 662.2C2279.6 657.0 2281.9 651.4 2283.9 645.9C2285.8 640.5 2287.2 635.1 2289.7 629.7C2292.2 624.3 2295.5 618.5 2299.0 613.4C2302.5 608.4 2306.7 603.5 2310.6 599.5C2314.5 595.4 2318.7 591.5 2322.2 589.0C2325.7 586.5 2328.8 585.4 2331.5 584.4C2334.2 583.4 2335.4 582.8 2338.5 583.2C2341.5 583.6 2347.0 584.4 2350.1 586.7C2353.2 589.0 2356.1 593.9 2357.0 597.2C2358.0 600.5 2357.0 602.6 2355.9 606.5C2354.7 610.3 2352.2 615.4 2350.1 620.4C2347.9 625.4 2345.4 631.2 2343.1 636.6C2340.8 642.1 2338.5 647.5 2336.1 652.9C2333.8 658.3 2330.9 664.1 2329.2 669.2C2327.4 674.2 2326.6 678.1 2325.7 683.1C2324.7 688.1 2323.9 693.9 2323.4 699.4C2322.8 704.8 2322.8 710.2 2322.2 715.6C2321.6 721.0 2320.8 726.8 2319.9 731.9C2318.9 736.9 2318.7 740.8 2316.4 745.8C2314.1 750.8 2309.2 757.0 2305.9 762.1C2302.6 767.1 2300.1 771.4 2296.6 776.0C2293.2 780.6 2288.9 785.3 2285.0 789.9C2281.2 794.6 2277.3 799.0 2273.4 803.9C2269.5 808.7 2265.9 814.1 2261.8 819.0C2257.7 823.8 2250.9 827.3 2249.0 832.9C2247.2 838.5 2250.1 845.3 2250.6 852.4C2251.0 859.5 2251.5 867.9 2252.0 875.7C2252.4 883.4 2252.7 890.2 2253.1 898.9C2253.6 907.6 2253.7 918.0 2254.7 927.9C2255.8 937.8 2257.3 947.3 2259.4 958.1C2261.5 969.0 2264.8 981.0 2267.5 993.0C2270.2 1005.0 2272.9 1017.0 2275.7 1030.2C2278.4 1043.3 2281.3 1058.8 2283.8 1072.0C2286.3 1085.2 2288.4 1096.8 2290.8 1109.2C2293.1 1121.6 2295.6 1134.7 2297.7 1146.4C2299.9 1158.0 2300.8 1161.5 2303.5 1178.9C2306.3 1196.3 2312.6 1238.6 2314.4 1250.5Z" fill="#fff"/><g clip-path="url(#hc)"><g transform="rotate(-48 2200 800)"><rect x="1550" y="450" width="1300" height="700" fill="#fff" filter="url(#tex)"/></g><g transform="rotate(-48 2200 800)" clip-path="url(#palm)"><rect x="1550" y="450" width="1300" height="700" fill="#fff" fill-opacity="0" filter="url(#tex2)"/></g><g filter="url(#blur)"><path d="M2248.2 900.0L2245.6 915.6L2244.7 931.2L2245.2 946.9L2245.7 962.5L2247.0 978.1L2248.2 993.8L2248.9 1009.4L2249.5 1025.0L2250.2 1040.6L2250.9 1056.2L2253.3 1071.9L2255.8 1087.5L2258.4 1103.1L2261.6 1118.8L2265.2 1134.4L2268.9 1150.0L2272.7 1165.6L2276.9 1181.2L2281.0 1196.9L2285.1 1212.5L2289.3 1228.1L2293.4 1243.8L2296.8 1259.4L2300.0 1275.0L2335.0 1275.0L2331.9 1259.4L2328.8 1243.8L2325.9 1228.1L2323.0 1212.5L2320.0 1196.9L2317.1 1181.2L2314.1 1165.6L2311.1 1150.0L2308.1 1134.4L2305.1 1118.8L2302.0 1103.1L2298.9 1087.5L2295.8 1071.9L2292.7 1056.2L2289.5 1040.6L2286.4 1025.0L2283.2 1009.4L2280.0 993.8L2276.6 978.1L2273.3 962.5L2270.8 946.9L2268.9 931.2L2266.9 915.6L2266.5 900.0Z" fill="#000" fill-opacity="0.26"/><path d="M2251.2 930.0L2251.7 944.4L2252.1 958.8L2253.1 973.1L2253.9 987.5L2254.3 1001.9L2255.6 1016.2L2256.9 1030.6L2258.2 1045.0L2259.7 1059.4L2262.2 1073.8L2264.7 1088.1L2267.2 1102.5L2270.0 1116.9L2273.2 1131.2L2276.4 1145.6L2279.6 1160.0L2283.1 1174.4L2286.5 1188.8L2290.0 1203.1L2293.5 1217.5L2297.0 1231.9L2300.4 1246.2L2303.4 1260.6L2306.3 1275.0L2335.0 1275.0L2332.1 1260.6L2329.3 1246.2L2326.6 1231.9L2323.9 1217.5L2321.2 1203.1L2318.5 1188.8L2315.8 1174.4L2313.1 1160.0L2310.3 1145.6L2307.5 1131.2L2304.7 1116.9L2301.9 1102.5L2299.0 1088.1L2296.2 1073.8L2293.3 1059.4L2290.4 1045.0L2287.5 1030.6L2284.6 1016.2L2281.7 1001.9L2278.6 987.5L2275.6 973.1L2272.5 958.8L2270.5 944.4L2268.7 930.0Z" fill="#000" fill-opacity="0.36"/></g><g filter="url(#blur2)"><path d="M2254.9 960.0L2256.4 973.1L2257.8 986.2L2258.8 999.4L2260.5 1012.5L2262.2 1025.6L2263.9 1038.8L2265.6 1051.9L2267.7 1065.0L2270.1 1078.1L2272.5 1091.2L2274.9 1104.4L2277.5 1117.5L2280.3 1130.6L2283.1 1143.8L2285.9 1156.9L2288.8 1170.0L2291.7 1183.1L2294.6 1196.2L2297.6 1209.4L2300.5 1222.5L2303.4 1235.6L2306.2 1248.8L2308.9 1261.9L2311.6 1275.0L2335.0 1275.0L2332.4 1261.9L2329.8 1248.8L2327.3 1235.6L2324.9 1222.5L2322.4 1209.4L2319.9 1196.2L2317.5 1183.1L2315.0 1170.0L2312.5 1156.9L2309.9 1143.8L2307.4 1130.6L2304.8 1117.5L2302.3 1104.4L2299.7 1091.2L2297.0 1078.1L2294.4 1065.0L2291.8 1051.9L2289.2 1038.8L2286.5 1025.6L2283.9 1012.5L2281.2 999.4L2278.4 986.2L2275.6 973.1L2272.7 960.0Z" fill="#000" fill-opacity="0.62"/><path d="M2251 833L2239 846L2243 860L2252 858Z" fill="#000" fill-opacity="0.6"/></g><path d="M2248.2 900.0L2245.6 915.6L2244.7 931.2L2245.2 946.9L2245.7 962.5L2247.0 978.1L2248.2 993.8L2248.9 1009.4L2249.5 1025.0L2250.2 1040.6L2250.9 1056.2L2253.3 1071.9L2255.8 1087.5L2258.4 1103.1L2261.6 1118.8L2265.2 1134.4L2268.9 1150.0L2272.7 1165.6L2276.9 1181.2L2281.0 1196.9L2285.1 1212.5L2289.3 1228.1L2293.4 1243.8L2296.8 1259.4L2300.0 1275.0L2321.0 1275.0L2317.9 1259.4L2314.8 1243.8L2311.9 1228.1L2309.0 1212.5L2306.0 1196.9L2303.1 1181.2L2300.1 1165.6L2297.1 1150.0L2294.1 1134.4L2291.1 1118.8L2288.0 1103.1L2284.9 1087.5L2281.8 1071.9L2278.7 1056.2L2275.5 1040.6L2272.4 1025.0L2269.2 1009.4L2266.0 993.8L2262.6 978.1L2259.3 962.5L2256.8 946.9L2254.9 931.2L2252.9 915.6L2252.5 900.0Z" fill="url(#hatch)"/><g filter="url(#blur2)"><path d="M2136 1178L2146 1196L2152 1252L2137 1252Z" fill="#000" fill-opacity="0.42"/><path d="M2123 846L2137 848L2134 856L2125 857Z" fill="#000" fill-opacity="0.3"/><path d="M2125 862L2131 866L2132 888L2126 888Z" fill="#000" fill-opacity="0.25"/></g><path d="M2134 1175L2152 1198L2154 1254L2134 1254Z" fill="url(#hatch)"/><path d="M2082.8 709.5C2087.8 707.4 2103.3 701.5 2113.0 696.7C2122.7 691.9 2132.3 685.9 2140.9 680.4C2149.4 675.0 2157.1 669.6 2164.1 664.2C2171.1 658.7 2179.6 650.6 2182.7 647.9" fill="none" stroke="#aaa" stroke-width="1.1"/><path d="M2159.5 686.2C2163.3 683.9 2173.8 676.7 2182.7 672.3C2191.6 667.8 2207.9 661.6 2212.9 659.5" fill="none" stroke="#aaa" stroke-width="1.1"/><path d="M2136.2 850.6C2141.6 850.3 2158.7 849.9 2168.7 848.9C2178.8 848.0 2184.6 848.1 2196.6 845.0C2208.6 841.9 2233.4 832.8 2240.8 830.3" fill="none" stroke="#aaa" stroke-width="1.1"/></g><path d="M2274.6 677.3C2275.2 674.8 2276.5 667.4 2278.1 662.2C2279.6 657.0 2281.9 651.4 2283.9 645.9C2285.8 640.5 2287.2 635.1 2289.7 629.7C2292.2 624.3 2295.5 618.5 2299.0 613.4C2302.5 608.4 2306.7 603.5 2310.6 599.5C2314.5 595.4 2318.7 591.5 2322.2 589.0C2325.7 586.5 2328.8 585.4 2331.5 584.4C2334.2 583.4 2335.4 582.8 2338.5 583.2C2341.5 583.6 2347.0 584.4 2350.1 586.7C2353.2 589.0 2355.9 595.4 2357.0 597.2" fill="none" stroke="#000" stroke-width="3.4" stroke-linejoin="round" stroke-linecap="round"/><path d="M2139.2 1250.5C2138.9 1238.6 2137.9 1198.6 2137.4 1178.9C2136.9 1159.2 2136.6 1147.9 2136.2 1132.4C2135.8 1116.9 2135.4 1101.4 2135.0 1085.9C2134.7 1070.4 2134.5 1054.9 2133.9 1039.5C2133.2 1024.0 2132.1 1008.5 2131.1 993.0C2130.1 977.5 2128.8 962.0 2128.1 946.5C2127.4 931.0 2127.4 909.9 2126.9 900.0C2126.4 890.1 2125.6 893.3 2125.1 887.3C2124.5 881.3 2124.4 870.8 2123.9 864.0C2123.4 857.3 2123.7 851.8 2122.3 846.6C2120.8 841.4 2118.0 837.9 2115.3 832.7C2112.6 827.4 2109.5 822.0 2106.0 815.2C2102.5 808.5 2098.1 800.5 2094.4 792.0C2090.7 783.5 2086.8 773.4 2083.9 764.1C2081.0 754.8 2078.9 745.5 2076.9 736.2C2075.0 726.9 2073.6 717.2 2072.3 708.3C2071.0 699.4 2070.0 690.5 2069.3 682.8C2068.5 675.0 2068.7 668.4 2067.6 661.8C2066.6 655.3 2064.9 650.2 2063.0 643.2C2061.1 636.3 2058.3 629.4 2056.0 620.0C2053.7 610.6 2051.4 597.2 2049.1 587.1C2046.7 576.9 2043.7 566.9 2042.1 559.2C2040.4 551.4 2039.1 546.4 2039.1 540.6C2039.1 534.8 2040.4 528.3 2042.1 524.3C2043.7 520.4 2046.5 518.3 2049.1 516.9C2051.6 515.4 2054.3 515.0 2057.2 515.5C2060.1 515.9 2063.8 517.0 2066.5 519.7C2069.2 522.3 2071.5 526.6 2073.5 531.3C2075.4 535.9 2076.6 541.7 2078.1 547.6C2079.7 553.4 2080.8 559.6 2082.8 566.1C2084.7 572.7 2087.0 579.7 2089.7 587.1C2092.4 594.4 2096.3 603.7 2099.0 610.3C2101.7 616.9 2104.8 623.9 2106.0 626.6L2106.0 626.6C2107.2 623.1 2112.8 613.0 2113.0 605.7C2113.2 598.3 2109.1 591.7 2107.2 582.4C2105.2 573.1 2103.3 561.5 2101.3 549.9C2099.4 538.3 2097.9 523.9 2095.5 512.7C2093.2 501.5 2089.7 491.4 2087.4 482.5C2085.1 473.6 2082.8 465.4 2081.6 459.2C2080.4 453.0 2079.2 449.7 2080.0 445.3C2080.7 440.8 2083.5 435.8 2086.2 432.5C2089.0 429.2 2093.6 426.9 2096.7 425.5C2099.8 424.2 2101.7 423.8 2104.8 424.4C2107.9 425.0 2112.4 426.7 2115.3 429.0C2118.2 431.3 2120.3 434.1 2122.3 438.3C2124.2 442.6 2125.4 448.4 2126.9 454.6C2128.5 460.8 2130.0 468.5 2131.6 475.5C2133.1 482.5 2134.7 489.8 2136.2 496.4C2137.8 503.0 2139.1 509.2 2140.9 515.0C2142.6 520.8 2145.1 525.5 2146.7 531.3C2148.2 537.1 2149.0 543.3 2150.2 549.9C2151.3 556.5 2153.4 564.6 2153.6 570.8C2153.8 577.0 2151.7 584.4 2151.3 587.1L2151.3 587.1C2152.3 584.7 2156.4 581.6 2157.1 573.1C2157.9 564.6 2156.4 549.9 2156.0 535.9C2155.6 522.0 2155.4 504.9 2154.8 489.5C2154.2 474.0 2153.4 456.5 2152.5 443.0C2151.5 429.4 2149.8 417.4 2149.0 408.1C2148.1 398.8 2146.8 393.0 2147.4 387.2C2147.9 381.4 2150.1 376.9 2152.5 373.2C2154.9 369.6 2158.7 366.7 2161.8 365.1C2164.9 363.5 2168.0 363.3 2171.1 363.5C2174.2 363.7 2177.5 364.3 2180.4 366.3C2183.3 368.3 2186.4 371.7 2188.5 375.6C2190.6 379.4 2191.8 383.3 2193.2 389.5C2194.5 395.7 2195.5 403.8 2196.6 412.8C2197.8 421.7 2199.0 432.5 2200.1 443.0C2201.3 453.4 2202.6 465.8 2203.6 475.5C2204.6 485.2 2205.9 491.8 2205.9 501.1C2205.9 510.4 2204.5 521.6 2203.6 531.3C2202.8 541.0 2201.4 551.6 2200.8 559.2C2200.2 566.7 2200.2 573.7 2200.1 576.6L2200.1 576.6C2201.7 574.9 2207.3 572.9 2209.4 566.1C2211.6 559.4 2211.7 546.8 2212.9 535.9C2214.1 525.1 2215.6 512.7 2216.4 501.1C2217.2 489.5 2217.4 477.8 2217.6 466.2C2217.7 454.6 2217.1 441.8 2217.1 431.3C2217.1 420.9 2216.5 410.0 2217.6 403.5C2218.6 396.9 2221.0 394.9 2223.4 391.8C2225.7 388.7 2228.8 386.1 2231.5 384.9C2234.2 383.6 2236.7 383.8 2239.6 384.4C2242.5 385.0 2246.2 385.9 2248.9 388.3C2251.6 390.8 2254.2 394.7 2255.9 398.8C2257.6 402.9 2258.4 406.2 2259.4 412.8C2260.4 419.3 2261.1 429.4 2261.7 438.3C2262.3 447.2 2262.6 456.9 2262.9 466.2C2263.2 475.5 2263.8 484.8 2263.6 494.1C2263.4 503.4 2262.4 512.7 2261.7 522.0C2261.0 531.3 2260.0 541.0 2259.4 549.9C2258.8 558.8 2258.4 569.5 2258.2 575.4C2258.1 581.4 2258.1 580.4 2258.3 585.5C2258.6 590.7 2258.9 599.1 2259.7 606.5C2260.5 613.8 2261.5 621.9 2263.0 629.7C2264.5 637.4 2266.8 645.0 2268.8 652.9C2270.7 660.8 2273.6 673.2 2274.6 677.3" fill="none" stroke="#000" stroke-width="4.8" stroke-linejoin="round" stroke-linecap="round"/><path d="M2357.0 597.2C2356.8 598.7 2357.0 602.6 2355.9 606.5C2354.7 610.3 2352.2 615.4 2350.1 620.4C2347.9 625.4 2345.4 631.2 2343.1 636.6C2340.8 642.1 2338.5 647.5 2336.1 652.9C2333.8 658.3 2330.9 664.1 2329.2 669.2C2327.4 674.2 2326.6 678.1 2325.7 683.1C2324.7 688.1 2323.9 693.9 2323.4 699.4C2322.8 704.8 2322.8 710.2 2322.2 715.6C2321.6 721.0 2320.8 726.8 2319.9 731.9C2318.9 736.9 2318.7 740.8 2316.4 745.8C2314.1 750.8 2309.2 757.0 2305.9 762.1C2302.6 767.1 2300.1 771.4 2296.6 776.0C2293.2 780.6 2288.9 785.3 2285.0 789.9C2281.2 794.6 2277.3 799.0 2273.4 803.9C2269.5 808.7 2265.9 814.1 2261.8 819.0C2257.7 823.8 2250.9 827.3 2249.0 832.9C2247.2 838.5 2250.1 845.3 2250.6 852.4C2251.0 859.5 2251.5 867.9 2252.0 875.7C2252.4 883.4 2252.7 890.2 2253.1 898.9C2253.6 907.6 2253.7 918.0 2254.7 927.9C2255.8 937.8 2257.3 947.3 2259.4 958.1C2261.5 969.0 2264.8 981.0 2267.5 993.0C2270.2 1005.0 2272.9 1017.0 2275.7 1030.2C2278.4 1043.3 2281.3 1058.8 2283.8 1072.0C2286.3 1085.2 2288.4 1096.8 2290.8 1109.2C2293.1 1121.6 2295.6 1134.7 2297.7 1146.4C2299.9 1158.0 2300.8 1161.5 2303.5 1178.9C2306.3 1196.3 2312.6 1238.6 2314.4 1250.5" fill="none" stroke="#000" stroke-width="3.3" stroke-linejoin="round" stroke-linecap="butt"/><path d="M2042.1 525.3C2043.2 524.1 2046.5 519.3 2049.1 517.9C2051.6 516.4 2054.3 516.0 2057.2 516.5C2060.1 516.9 2064.9 520.0 2066.5 520.7" fill="none" stroke="#000" stroke-width="6.4" stroke-linecap="round"/><path d="M2086.2 433.5C2088.0 432.3 2093.6 427.9 2096.7 426.5C2099.8 425.2 2101.7 424.8 2104.8 425.4C2107.9 426.0 2113.5 429.2 2115.3 430.0" fill="none" stroke="#000" stroke-width="6.4" stroke-linecap="round"/><path d="M2153.6 373.1C2155.0 371.9 2158.9 367.5 2161.8 366.1C2164.7 364.7 2168.0 364.3 2171.1 364.5C2174.2 364.7 2177.6 365.4 2180.4 367.3C2183.2 369.1 2186.6 374.0 2187.8 375.4" fill="none" stroke="#000" stroke-width="6.4" stroke-linecap="round"/><path d="M2224.5 391.7C2225.7 390.7 2229.0 386.9 2231.5 385.9C2234.0 384.8 2236.7 384.8 2239.6 385.4C2242.5 386.0 2247.4 388.7 2248.9 389.3" fill="none" stroke="#000" stroke-width="6.4" stroke-linecap="round"/><path d="M2324.5 586.9C2326.4 586.4 2332.2 584.2 2336.1 584.1C2340.0 584.0 2344.4 584.8 2347.7 586.2C2351.0 587.6 2354.5 591.6 2355.8 592.7" fill="none" stroke="#000" stroke-width="6.4" stroke-linecap="round"/><path d="M2100.9 609.3L2107.9 603.7L2115.3 604.6L2116.7 611.1L2111.6 622.3L2106.5 630.2L2103.2 624.1ZM2148.8 572.1L2153.4 573.9L2159.0 572.1L2159.0 579.5L2154.4 586.0L2148.8 590.2L2149.3 581.4ZM2198.1 564.6L2204.6 566.5L2212.5 563.7L2210.2 572.1L2206.4 576.7L2196.7 579.5L2198.5 572.1ZM2271.5 657.0L2276.5 660.5L2281.5 656.0L2278.0 668.0L2274.6 679.5L2272.5 668.0Z" fill="#000"/>
<path d="M1718.4 949.8H2423.5M1718.4 1093.8H2423.5" stroke="#000" stroke-width="5.6" stroke-dasharray="30.8 30.4" fill="none"/>
<path d="M1753.1 985.8H2197M1753.1 1055.6H2197" stroke="#000" stroke-width="5.2" fill="none"/>
<circle cx="2197.8" cy="986.5" r="14.4" fill="#f00"/>
<circle cx="2197.8" cy="1055.7" r="14.4" fill="#f00"/>
<text transform="translate(32.13 55.70) scale(0.9640 1.0000)" font-size="61" font-weight="bold">A</text>
<text transform="translate(1092.28 55.80) scale(0.9514 1.0000)" font-size="61" font-weight="bold">B</text>
<text transform="translate(195.75 61.40) scale(1.0128 1.0000)" font-size="60" font-style="italic">sensation</text>
<text transform="translate(198.44 134.40) scale(1.0262 1.0000)" font-size="60">likelihood</text>
<text transform="translate(142.50 476.80) scale(1.0250 1.0000)" font-size="60" font-style="italic">expectation</text>
<text transform="translate(332.17 549.40) scale(1.0339 1.0000)" font-size="60">prior</text>
<text transform="translate(170.93 895.80) scale(1.0201 1.0000)" font-size="60" font-style="italic">perception</text>
<text transform="translate(215.70 969.00) scale(1.0249 1.0000)" font-size="60">posterior</text>
<path d="M193 68.1H455" stroke="#000" stroke-width="4.6" fill="none"/>
<path d="M141.6 483.3H455.3" stroke="#000" stroke-width="4.6" fill="none"/>
<path d="M168.4 902.6H455" stroke="#000" stroke-width="4.6" fill="none"/>
<text transform="translate(36.10 208.30)" font-size="60" font-style="italic">p</text>
<text transform="translate(68.85 208.30)" font-size="60">(</text>
<text transform="translate(92.30 208.30)" font-size="60" font-style="italic">x</text>
<text transform="translate(122.26 228.30) scale(0.9397 1.0000)" font-size="36">1m</text>
<text transform="translate(168.40 208.30)" font-size="60">,</text>
<text transform="translate(189.60 208.30)" font-size="60" font-style="italic">x</text>
<text transform="translate(216.05 228.30) scale(1.0282 1.0000)" font-size="36">2m</text>
<text transform="translate(283.60 208.30)" font-size="60">|</text>
<text transform="translate(319.20 208.30)" font-size="60" font-style="italic">x</text>
<text transform="translate(349.70 228.30)" font-size="36">1</text>
<text transform="translate(366.10 208.30)" font-size="60">,</text>
<text transform="translate(387.40 208.30)" font-size="60" font-style="italic">x</text>
<text transform="translate(413.90 228.30)" font-size="36">2</text>
<text transform="translate(439.25 208.30)" font-size="60">)</text>
<text transform="translate(204.10 623.90)" font-size="60" font-style="italic">p</text>
<text transform="translate(236.65 623.90)" font-size="60">(</text>
<text transform="translate(260.20 623.90)" font-size="60" font-style="italic">x</text>
<text transform="translate(289.90 643.90)" font-size="36">1</text>
<text transform="translate(306.60 623.90)" font-size="60">,</text>
<text transform="translate(327.00 623.90)" font-size="60" font-style="italic">x</text>
<text transform="translate(353.80 643.90)" font-size="36">2</text>
<text transform="translate(385.00 623.90)" font-size="60">|</text>
<text transform="translate(417.70 623.90)" font-size="60" font-style="italic">t</text>
<text transform="translate(440.35 623.90)" font-size="60">)</text>
<text transform="translate(9.20 1043.60)" font-size="60" font-style="italic">p</text>
<text transform="translate(41.75 1043.60)" font-size="60">(</text>
<text transform="translate(65.30 1043.60)" font-size="60" font-style="italic">x</text>
<text transform="translate(95.90 1063.60)" font-size="36">1</text>
<text transform="translate(111.70 1043.60)" font-size="60">,</text>
<text transform="translate(133.10 1043.60)" font-size="60" font-style="italic">x</text>
<text transform="translate(159.90 1063.60)" font-size="36">2</text>
<text transform="translate(190.10 1043.60)" font-size="60">|</text>
<text transform="translate(225.10 1043.60)" font-size="60" font-style="italic">x</text>
<text transform="translate(255.94 1063.60) scale(0.9486 1.0000)" font-size="36">1m</text>
<text transform="translate(303.40 1043.60)" font-size="60">,</text>
<text transform="translate(323.80 1043.60)" font-size="60" font-style="italic">x</text>
<text transform="translate(349.54 1063.60) scale(1.0347 1.0000)" font-size="36">2m</text>
<text transform="translate(399.20 1043.60)" font-size="60">,</text>
<text transform="translate(416.50 1043.60)" font-size="60" font-style="italic">t</text>
<text transform="translate(440.05 1043.60)" font-size="60">)</text>
<text transform="translate(516.52 846.50) scale(0.9887 1.0000)" font-size="51">10</text>
<text transform="translate(544.29 1191.20) scale(0.9855 1.0000)" font-size="51">0</text>
<text transform="translate(592.26 1258.00) scale(0.9978 1.0000)" font-size="51">0</text>
<text transform="translate(923.23 1258.00) scale(0.9848 1.0000)" font-size="51">10</text>
<text transform="translate(712.54 1266.50)" font-size="51" font-style="italic">x</text>
<text transform="translate(736.35 1283.20)" font-size="30">1</text>
<text transform="translate(751.24 1266.50) scale(1.0231 1.0000)" font-size="51">(cm)</text>
<text transform="translate(535.00 1075.46) rotate(-90)" font-size="51" font-style="italic">x</text>
<text transform="translate(552.60 1053.40) rotate(-90)" font-size="30">2</text>
<text transform="translate(535.00 1036.53) rotate(-90) scale(1.0147 1.0000)" font-size="51">(cm)</text>
<text transform="translate(1115.71 865.50) scale(0.9907 1.0000)" font-size="51">10</text>
<text transform="translate(1148.49 1212.70) scale(0.9855 1.0000)" font-size="51">0</text>
<text transform="translate(1301.76 1270.00) scale(1.0020 1.0000)" font-size="51">0</text>
<text transform="translate(1656.16 1270.00) scale(1.0009 1.0000)" font-size="51">0.15</text>
<text transform="translate(1434.63 1272.60) scale(1.0096 1.0000)" font-size="51">time (s)</text>
<text transform="translate(1132.70 1169.03) rotate(-90) scale(1.0047 1.0000)" font-size="51">position (cm)</text>
<text transform="translate(1277.04 203.10)" font-size="51">±</text>
<text transform="translate(1305.44 203.10)" font-size="51" font-style="italic">σ</text>
<text transform="translate(1336.83 220.50)" font-size="29" font-style="italic">s</text>
<text transform="translate(1644.74 61.90)" font-size="51">±</text>
<text transform="translate(1673.14 61.90)" font-size="51" font-style="italic">σ</text>
<text transform="translate(1704.53 79.30)" font-size="29" font-style="italic">s</text>
<text transform="translate(1761.41 203.20)" font-size="51" font-style="italic">l</text>
<text transform="translate(1773.09 219.80)" font-size="29" font-style="italic">m</text>
<text transform="translate(1811.15 203.20)" font-size="51">=</text>
<text transform="translate(1854.55 203.20)" font-size="51">4</text>
<text transform="translate(1897.59 203.20) scale(1.0196 1.0000)" font-size="51">cm</text>
<text transform="translate(2291.71 1037.10)" font-size="51" font-style="italic">l</text>
<text transform="translate(2303.39 1053.70)" font-size="29" font-style="italic">m</text>
<text transform="translate(2341.45 1037.10)" font-size="51">=</text>
<text transform="translate(2384.85 1037.10)" font-size="51">4</text>
<text transform="translate(2427.89 1037.10) scale(1.0196 1.0000)" font-size="51">cm</text>
<text transform="translate(1488.75 627.40)" font-size="51">+</text>
<text transform="translate(1519.54 624.30)" font-size="51" font-style="italic">σ</text>
<text transform="translate(1552.90 637.60)" font-size="29" font-style="italic">v</text>
<text transform="translate(1496.40 741.00)" font-size="51">-</text>
<text transform="translate(1514.84 743.20)" font-size="51" font-style="italic">σ</text>
<text transform="translate(1543.61 762.00)" font-size="29" font-style="italic">v</text>
<text transform="translate(1699.24 681.50)" font-size="51">±</text>
<text transform="translate(1728.03 681.50)" font-size="51">t</text>
<text transform="translate(1742.64 681.50)" font-size="51" font-style="italic">σ</text>
<text transform="translate(1772.90 698.00)" font-size="29" font-style="italic">v</text>
<text transform="translate(1753.51 1037.60)" font-size="51" font-style="italic">l</text>
<text transform="translate(1771.11 1037.60)" font-size="51">*</text>
<text transform="translate(1798.25 1037.60)" font-size="51">=</text>
<text transform="translate(1841.45 1037.60)" font-size="51">2</text>
<text transform="translate(1885.01 1037.60) scale(1.0116 1.0000)" font-size="51">cm</text>
</svg>
</body></html>
